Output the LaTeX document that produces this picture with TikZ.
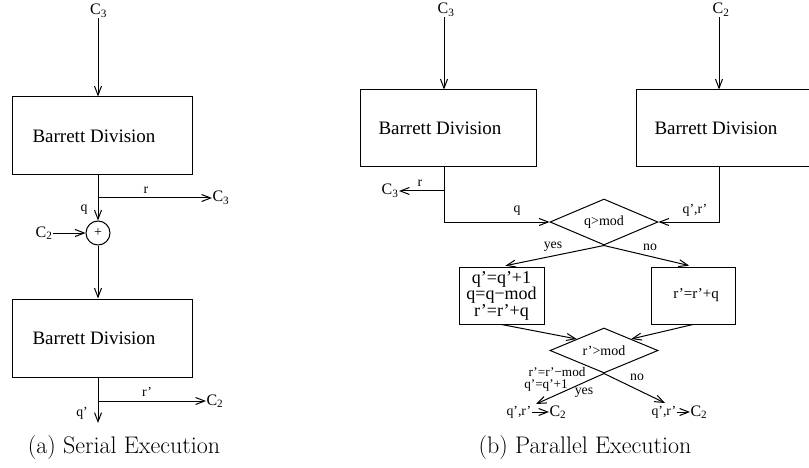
\documentclass[tikz,border=0pt]{standalone}
\usepackage{fontspec}
\newfontfamily\tms{Liberation Serif}
\usetikzlibrary{arrows.meta,shapes.geometric,calc}
\begin{document}
\begin{tikzpicture}[x=1pt,y=-1pt,line width=1pt,
  arr/.style={-{Straight Barb[length=9pt,width=7pt]}},
  bdbox/.style={draw,minimum width=180pt,minimum height=78pt,inner sep=0pt,font=\tms\fontsize{19}{20}\selectfont},
  lbl/.style={font=\tms\fontsize{13.8}{16}\selectfont,inner sep=0pt},
  slbl/.style={font=\tms\fontsize{13.2}{15}\selectfont,inner sep=0pt},
  clbl/.style={font=\tms\fontsize{16}{18}\selectfont,inner sep=0pt},
  dia/.style={draw,diamond,shape aspect=2.35,minimum width=108pt,minimum height=46pt,inner sep=0pt,font=\tms\fontsize{14}{16}\selectfont},
  opbox/.style={draw,minimum height=57pt,inner sep=0pt,align=center},
  captxt/.style={font=\fontsize{24}{28}\selectfont,inner sep=0pt}
]
\clip (0,0) rectangle (809,468);
% ---------- (a) serial ----------
\node[clbl] (c3a) at (98.5,11) {C\textsubscript{3}};
\node[bdbox] (bd1) at (102,136) {Barrett Division\kern16pt};
\coordinate (j1) at (98,198);
\node[draw,circle,minimum size=24pt,inner sep=0pt,font=\tms\fontsize{14}{14}\selectfont] (plus) at (98,233) {+};
\node[bdbox] (bd2) at (102,338) {Barrett Division\kern16pt};
\coordinate (j2) at (98,401);
\coordinate (e2) at (98,423);
\node[clbl,anchor=west] (c3b) at (212,198) {C\textsubscript{3}};
\node[clbl,anchor=east] (c2a) at (53,233) {C\textsubscript{2}};
\node[clbl,anchor=west] (c2b) at (206,401) {C\textsubscript{2}};
\draw[arr] (j1 |- c3a.south) -- (j1 |- bd1.north);
\draw[arr] (j1 |- bd1.south) -- (plus.north);
\draw[arr] (j1) -- (j1 -| c3b.west);
\draw[arr] (c2a.east) -- (plus.west);
\draw[arr] (plus.south) -- (plus.south |- bd2.north);
\draw[arr] (j2 |- bd2.south) -- (e2);
\draw[arr] (j2) -- (j2 -| c2b.west);
\node[lbl] (la1) at (146,190) {r};
\node[lbl] (la2) at (84,210) {q};
\node[lbl] (la3) at (147,392) {r’};
\node[lbl] (la4) at (82,413) {q’};
\node[captxt] (capa) at (124,448) {(a) Serial Execution};
% ---------- (b) parallel ----------
\node[clbl] (c3c) at (446,10) {C\textsubscript{3}};
\node[clbl] (c2c) at (721,10) {C\textsubscript{2}};
\node[bdbox,minimum width=176pt,minimum height=77pt] (bdL) at (448,128.5) {Barrett Division\kern16pt};
\node[bdbox,minimum width=176pt,minimum height=77pt] (bdR) at (724,128.5) {Barrett Division\kern16pt};
\coordinate (jL) at (444,191);
\coordinate (kR) at (719,191);
\draw[arr] (jL |- c3c.south) -- (jL |- bdL.north);
\draw[arr] (kR |- c2c.south) -- (kR |- bdR.north);
\node[dia] (d1) at (604,222) {q>mod};
\node[clbl,anchor=east] (c3d) at (399,191) {C\textsubscript{3}};
\draw[arr] (jL |- bdL.south) |- (d1.west);
\draw[arr] (jL) -- (jL -| c3d.east);
\draw[arr] (kR |- bdR.south) |- (d1.east);
\node[lbl] (lb1) at (420,183) {r};
\node[lbl] (lb2) at (517,211) {q};
\node[lbl] (lb3) at (695,210) {q’,r’};
\node[opbox,minimum width=85pt,font=\tms\fontsize{18}{16.5}\selectfont] (ybox) at (501.5,295.5) {q’=q’+1\\q=q−mod\\r’=r’+q};
\node[opbox,minimum width=84pt,font=\tms\fontsize{15}{17}\selectfont] (nbox) at (693,295.5) {\kern6pt r’=r’+q};
\draw[arr,shorten >=4pt] (d1.south) -- (ybox.north);
\draw[arr,shorten >=4pt] (d1.south) -- (nbox.north);
\node[lbl] (lb4) at (553,247) {yes};
\node[lbl] (lb5) at (650,247) {no};
\node[dia,minimum height=45pt] (d2) at (604,350.5) {r’>mod};
\draw[arr] (ybox.south) -- (d2.north west);
\draw[arr] (nbox.south) -- (d2.north east);
\coordinate (t1) at (536,404);
\coordinate (t2) at (665,403);
\draw[arr] (d2.south) -- (t1);
\draw[arr] (d2.south) -- (t2);
\node[slbl] (lb6) at (557,371.5) {r’=r’−mod};
\node[slbl] (lb7) at (546,386) {q’=q’+1};
\node[lbl] (lb8) at (584,393) {yes};
\node[lbl] (lb9) at (637,377) {no};
\node[lbl,anchor=west] (qr1) at (506,412) {q’,r’};
\node[clbl,anchor=west] (c2d) at (549,412) {C\textsubscript{2}};
\draw[arr] (qr1.east) -- (c2d.west);
\node[lbl,anchor=west] (qr2) at (651,412) {q’,r’};
\node[clbl,anchor=west] (c2e) at (690,412) {C\textsubscript{2}};
\draw[arr] (qr2.east) -- (c2e.west);
\node[captxt] (capb) at (585,448) {(b) Parallel Execution};
\end{tikzpicture}
\end{document}
